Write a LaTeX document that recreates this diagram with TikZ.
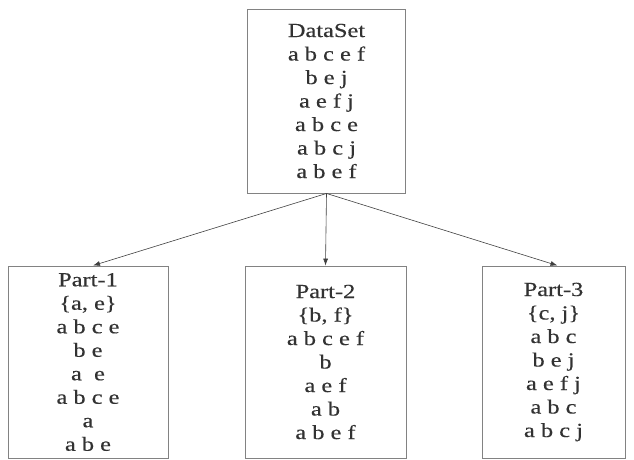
\documentclass[tikz,border=0pt]{standalone}
\usepackage{fontspec}
\setmainfont[FakeStretch=1.22, FakeBold=0.4]{Liberation Serif}
\usetikzlibrary{arrows.meta, positioning}
\definecolor{boxgray}{RGB}{130,130,130}
\definecolor{txtgray}{RGB}{50,50,50}
\tikzset{
    setbox/.style={rectangle, draw=boxgray, line width=0.9pt, align=center, text=txtgray, inner sep=0pt,
        font=\fontsize{20}{23.5}\selectfont},
    arrow/.style={draw=black!75, line width=0.6pt, -{Latex[length=7pt, width=5pt]}}
}

\begin{document}
\begin{tikzpicture}[x=1pt, y=-1pt]
        \useasboundingbox (0,0) rectangle (634,459);

        \node[setbox, minimum width=158pt, minimum height=184pt] (data) at (326.5, 101)
            {DataSet\\a b c e f\\b e j\\a e f j\\a b c e\\a b c j\\a b e f};

        \node[setbox, minimum width=160pt, minimum height=192pt] (part1) at (88, 362)
            {Part-1\\\{a, e\}\\a b c e\\b e\\a\ \ e\\a b c e\\a\\a b e};
        \node[setbox, minimum width=161pt, minimum height=192pt] (part2) at (325.5, 362)
            {Part-2\\\{b, f\}\\a b c e f\\b\\a e f\\a b\\a b e f};
        \node[setbox, minimum width=143pt, minimum height=192pt] (part3) at (553.5, 362)
            {Part-3\\\{c, j\}\\a b c\\b e j\\a e f j\\a b c\\a b c j};

        % split edges
        \draw[arrow] (data.south) -- ([xshift=5pt]part1.north);
        \draw[arrow] (data.south) -- (part2.north);
        \draw[arrow] (data.south) -- ([xshift=4pt]part3.north);
    \end{tikzpicture}
\end{document}
